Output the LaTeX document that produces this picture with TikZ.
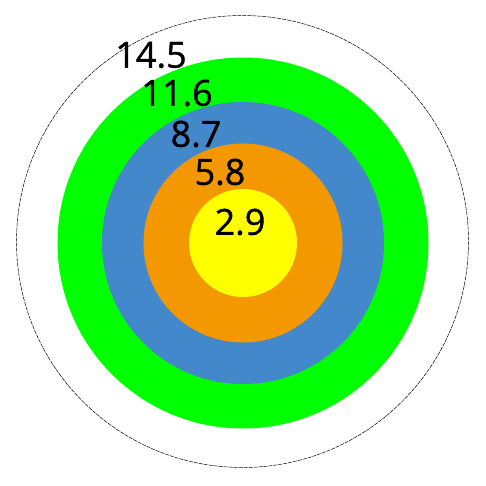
\documentclass[tikz,border=0pt]{standalone}
\usepackage{fontspec}
\setmainfont{Open Sans}
\newfontfamily\lblfont[FakeBold=1.0]{Open Sans}
\definecolor{ringgreen}{HTML}{00FF00}
\definecolor{ringblue}{HTML}{4488CC}
\definecolor{ringorange}{HTML}{F39800}
\definecolor{ringyellow}{HTML}{FFFF00}
\tikzset{
  lbl/.style={font=\lblfont\fontsize{36}{36}\selectfont, inner sep=0pt, text=black},
  outerring/.style={draw=black, line width=0.5pt, dash pattern=on 4pt off 1pt}
}
\begin{document}
\begin{tikzpicture}[x=1pt,y=-1pt]
\useasboundingbox (0,0) rectangle (486,486);
\draw[outerring] (242.5,241.5) circle[radius=226];
\fill[ringgreen] (243,243) circle[radius=185.5];
\fill[ringblue] (243,243) circle[radius=141];
\fill[ringorange] (243,243) circle[radius=99.5];
\fill[ringyellow] (243,243) circle[radius=54];
\node[lbl] (l145) at (151,55) {14.5};
\node[lbl] (l116) at (177,93) {11.6};
\node[lbl] (l87) at (196,134) {8.7};
\node[lbl] (l58) at (220,172) {5.8};
\node[lbl] (l29) at (240,222) {2.9};
\end{tikzpicture}
\end{document}
